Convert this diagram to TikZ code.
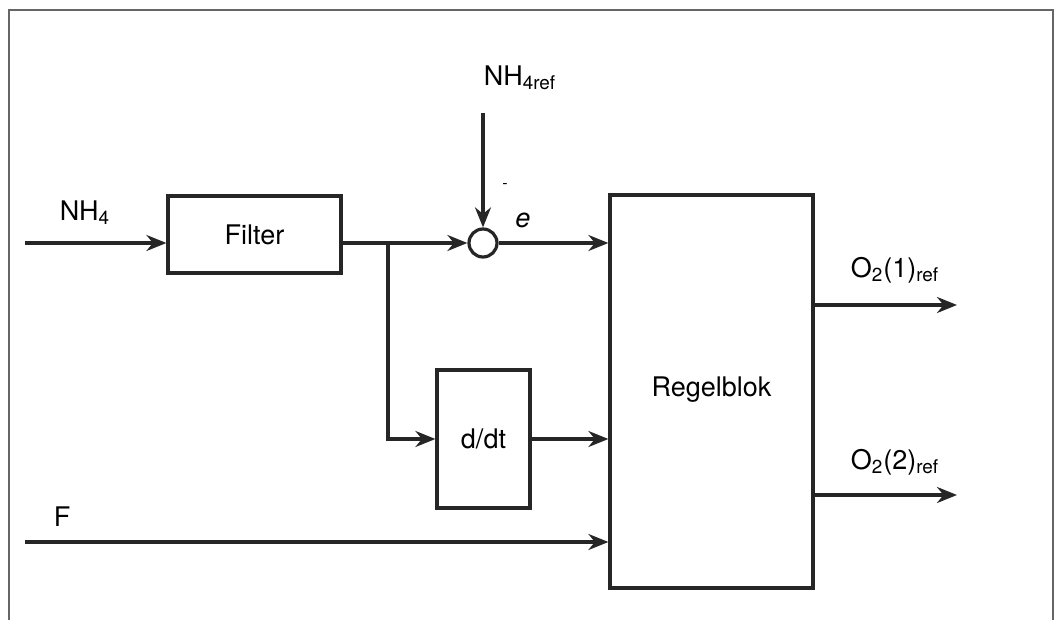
\documentclass[tikz,border=0pt]{standalone}
\usepackage{fontspec}
\setmainfont{TeX Gyre Heros}
\usetikzlibrary{arrows.meta,positioning,calc}

\begin{document}
\begin{tikzpicture}[
  x=0.5pt, y=-0.5pt,
  font=\fontsize{13.5}{15}\selectfont,
  every node/.style={align=center},
  blok/.style={draw=black!85, line width=1.6pt, inner sep=0pt, fill=white},
  sum/.style={circle, draw=black!85, line width=1.6pt, minimum size=14pt,
              inner sep=0pt},
  flow/.style={-{Stealth[length=10pt,width=8pt]}, draw=black!85,
               line width=1.6pt},
  lbl/.style={inner sep=1pt},
  frame/.style={draw=black!60, line width=1pt},
]
\useasboundingbox (0,0) rectangle (1057,620);

% ---- frame ----
\draw[frame] (9,620) -- (9,10) -- (1053,10) -- (1053,620);

% ---- blocks ----
\node[blok, minimum width=86.5pt, minimum height=38.5pt]
  (filter) at (254.5,234.5) {Filter};
\node[sum] (sum) at (483,243) {};
\node[blok, minimum width=46.5pt, minimum height=69pt]
  (ddt) at (483.5,439) {d/dt};
\node[blok, minimum width=101.5pt, minimum height=196.5pt]
  (regel) at (711.5,391.5) {\raisebox{5pt}{Regelblok}};

% ---- free ends ----
\coordinate (nh4) at (25,243);
\coordinate (ref) at (483,113);
\coordinate (fin) at (25,542);
\coordinate (br)  at (388,243);
\coordinate (o1)  at (957,305);
\coordinate (o2)  at (957,495);

% ---- connectors ----
\draw[flow] (nh4) -- (filter.west |- nh4);
\draw[flow] (filter.east |- sum) -- (sum.west);
\draw[flow] (ref) -- (sum.north);
\draw[flow] (br) |- (ddt.west);
\draw[flow] (sum.east) -- (regel.west |- sum);
\draw[flow] (ddt.east) -- (regel.west |- ddt);
\draw[flow] (fin) -- (regel.west |- fin);
\draw[flow] (regel.east |- o1) -- (o1);
\draw[flow] (regel.east |- o2) -- (o2);

% ---- labels ----
\node[lbl] (lnh4) at (85,213)  {NH\textsubscript{4}};
\node[lbl] (lref) at (520,78)  {NH\textsubscript{4ref}};
\node[lbl] (lmin) at (505,186) {\footnotesize -};
\node[lbl] (le)   at (523,220) {\textit{e}};
\node[lbl] (lf)   at (62,517)  {F};
\node[lbl] (lo1)  at (895,270) {O\textsubscript{2}(1)\textsubscript{ref}};
\node[lbl] (lo2)  at (895,462) {O\textsubscript{2}(2)\textsubscript{ref}};
\end{tikzpicture}
\end{document}
